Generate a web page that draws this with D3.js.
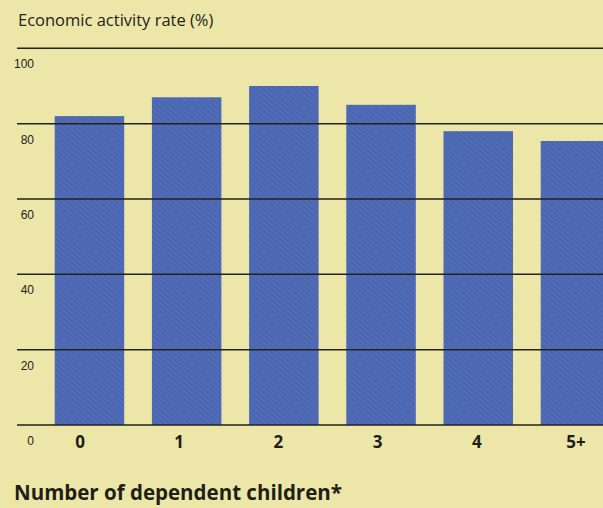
<!DOCTYPE html>
<html>
<head>
<meta charset="utf-8">
<script src="https://cdn.jsdelivr.net/npm/d3@7"></script>
<style>
  html, body { margin: 0; padding: 0; background: #ece7a9; }
  svg { display: block; }
</style>
</head>
<body>
<svg id="chart" width="603" height="508"></svg>
<script>
// Economic activity rate by number of dependent children
const categories = ["0", "1", "2", "3", "4", "5+"];
const rates = [82, 87, 90, 85, 78, 75.4];
const yTicks = [0, 20, 40, 60, 80, 100];

const W = 603, H = 508;
const svg = d3.select("#chart");

svg.append("rect").attr("width", W).attr("height", H).attr("fill", "#ece7a9");

// subtle diagonal weave on the bars
const defs = svg.append("defs");
const pat = defs.append("pattern")
  .attr("id", "weave")
  .attr("patternUnits", "userSpaceOnUse")
  .attr("width", 4).attr("height", 4)
  .attr("patternTransform", "rotate(-50)");
pat.append("rect").attr("width", 4).attr("height", 4).attr("fill", "#516cb6");
pat.append("rect").attr("width", 1.3).attr("height", 4).attr("fill", "#4762ad").attr("opacity", 0.8);

const y = d3.scaleLinear().domain([0, 100]).range([425, 48.3]);
const x = d3.scaleBand().domain(categories).range([54.7, 610.2])
  .paddingInner(0.285).paddingOuter(0);
const xLabel = d3.scalePoint().domain(categories).range([80, 576]);

// bars
svg.append("g").selectAll("rect").data(rates).join("rect")
  .attr("x", (d, i) => x(categories[i]))
  .attr("y", d => y(d))
  .attr("width", x.bandwidth())
  .attr("height", d => y(0) - y(d))
  .attr("fill", "url(#weave)");

// horizontal rules over the bars
svg.append("g").selectAll("line").data(yTicks).join("line")
  .attr("x1", 17).attr("x2", W)
  .attr("y1", d => y(d)).attr("y2", d => y(d))
  .attr("stroke", "#24221a").attr("stroke-width", 1.5);

// value labels sit under each rule
svg.append("g").selectAll("text").data(yTicks).join("text")
  .attr("x", 34).attr("y", d => y(d) + 20)
  .attr("text-anchor", "end")
  .attr("font-family", "Liberation Sans, Arial, sans-serif")
  .attr("font-size", 12)
  .attr("fill", "#23221a")
  .text(d => d);

// category labels
svg.append("g").selectAll("text").data(categories).join("text")
  .attr("x", d => xLabel(d)).attr("y", 448)
  .attr("text-anchor", "middle")
  .attr("font-family", "Open Sans, sans-serif")
  .attr("font-weight", "bold")
  .attr("font-size", 17)
  .attr("fill", "#1f1e17")
  .text(d => d);

svg.append("text")
  .attr("x", 18).attr("y", 26)
  .attr("font-family", "Open Sans, sans-serif")
  .attr("font-size", 16.5)
  .attr("fill", "#23221a")
  .text("Economic activity rate (%)");

svg.append("text")
  .attr("x", 14).attr("y", 500)
  .attr("font-family", "Open Sans, sans-serif")
  .attr("font-weight", "bold")
  .attr("font-size", 20.5)
  .attr("fill", "#1f1e17")
  .text("Number of dependent children*");
</script>
</body>
</html>
